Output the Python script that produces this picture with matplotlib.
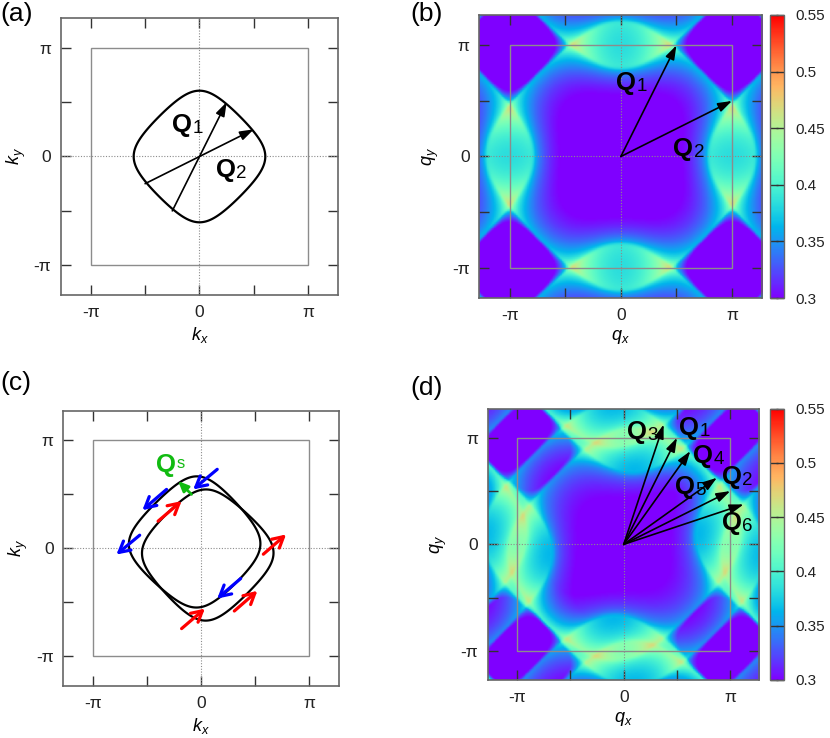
import numpy as np
import matplotlib
matplotlib.use("Agg")
import matplotlib.pyplot as plt
from matplotlib.patches import Rectangle

PI = np.pi

# tight-binding model, energies in units of t
HOP_T = 1.0
HOP_TP = -0.125
CHEM_MU = -1.514
SPLIT_LAMBDA = 0.29     # persistent-spin-helix splitting, lambda (sin kx - sin ky)
TEMP = 0.02
NK = 256
N_FREQ = 220

# linear map from the bare bubble onto the colour scale
CHI_SCALE, CHI_SHIFT = 1.55, 0.045
# panel (d): the two displaced copies are stacked above the purple floor
D_FLOOR, D_WEIGHT = 0.3, 0.75

# nesting vectors (units of pi)
Q1 = (0.5, 1.0)
Q2 = (1.0, 0.5)
QS = (-0.125, 0.125)
Q3 = (Q1[0] + QS[0], Q1[1] + QS[1])
Q4 = (Q1[0] - QS[0], Q1[1] - QS[1])
Q5 = (Q2[0] + QS[0], Q2[1] + QS[1])
Q6 = (Q2[0] - QS[0], Q2[1] - QS[1])

# spin arrows in panel (c): (tail, head) in units of pi
SPIN_DOWN = [((0.148, 0.733), (-0.074, 0.547)),
             ((-0.32, 0.547), (-0.543, 0.355)),
             ((-0.568, 0.123), (-0.783, -0.056)),
             ((0.365, -0.278), (0.148, -0.464))]
SPIN_UP = [((-0.398, 0.253), (-0.181, 0.439)),
           ((0.574, -0.053), (0.784, 0.13)),
           ((0.306, -0.579), (0.519, -0.393)),
           ((-0.181, -0.742), (0.034, -0.557))]
QS_ARROW = ((-0.089, 0.501), (-0.213, 0.624))

CBAR_TICKS = [0.3, 0.35, 0.4, 0.45, 0.5, 0.55]
LIM = 4.0

plt.rcParams["font.family"] = ["Liberation Sans", "DejaVu Sans"]
plt.rcParams["mathtext.fontset"] = "custom"
plt.rcParams["mathtext.rm"] = "Liberation Sans"
plt.rcParams["mathtext.it"] = "Liberation Sans:italic"
plt.rcParams["mathtext.bf"] = "Liberation Sans:bold"


def band(kx, ky, s=0):
    e = -2 * HOP_T * (np.cos(kx) + np.cos(ky)) - 4 * HOP_TP * np.cos(kx) * np.cos(ky) - CHEM_MU
    return e + s * SPLIT_LAMBDA * (np.sin(kx) - np.sin(ky))


# -----------------------
# bare bubbles on the k grid (Matsubara sum + FFT convolution)
# -----------------------
k = 2 * PI * np.arange(NK) / NK
KX, KY = np.meshgrid(k, k)
e0, ep, em = band(KX, KY), band(KX, KY, 1), band(KX, KY, -1)

acc00 = np.zeros(e0.shape, complex)
accpp = np.zeros(e0.shape, complex)
accmm = np.zeros(e0.shape, complex)
for n in range(N_FREQ):
    w = (2 * n + 1) * PI * TEMP
    f0 = np.fft.fft2(1.0 / (1j * w - e0))
    fp = np.fft.fft2(1.0 / (1j * w - ep))
    fm = np.fft.fft2(1.0 / (1j * w - em))
    acc00 += f0 * f0
    accpp += fp * fp
    accmm += fm * fm

tail = 1.0 / (2 * PI ** 2 * TEMP * N_FREQ)


def to_map(acc):
    chi = -2 * TEMP * np.fft.ifft2(acc).real / NK ** 2 + tail
    return CHI_SCALE * chi + CHI_SHIFT


qd = np.linspace(-LIM, LIM, 481)
idx = np.round(qd / (2 * PI) * NK).astype(int) % NK
grid = np.ix_(idx, idx)

map_b = to_map(acc00)[grid]
# spin-flip bubbles: copies of the bare one displaced by +-Q^s
map_p = to_map(accpp)[grid]
map_m = to_map(accmm)[grid]
map_d = D_FLOOR + D_WEIGHT * (np.clip(map_p - D_FLOOR, 0, None) + np.clip(map_m - D_FLOOR, 0, None))

kk = np.linspace(-LIM, LIM, 600)
GX, GY = np.meshgrid(kk, kk)


def style_axes(ax, xl, yl, ypad):
    ax.set_xlim(-LIM, LIM)
    ax.set_ylim(-LIM, LIM)
    ticks = [-PI, -PI / 2, 0, PI / 2, PI]
    labels = ["-π", "", "0", "", "π"]
    ax.set_xticks(ticks)
    ax.set_yticks(ticks)
    ax.set_xticklabels(labels)
    ax.set_yticklabels(labels)
    ax.tick_params(direction="in", length=7, width=1, top=True, right=True,
                   labelsize=12.5, pad=7, color="#333333", labelcolor="#222222")
    for sp in ax.spines.values():
        sp.set_color("#666666")
        sp.set_linewidth(1.2)
        sp.set_zorder(6)
    ax.set_xlabel(xl, fontsize=13, labelpad=4)
    ax.set_ylabel(yl, fontsize=13, labelpad=ypad)
    ax.add_patch(Rectangle((-PI, -PI), 2 * PI, 2 * PI, fill=False, ec="#8c8c8c", lw=1, zorder=3))
    ax.axhline(0, color="#8c8c8c", ls=(0, (1, 1.5)), lw=0.8, zorder=3)
    ax.axvline(0, color="#8c8c8c", ls=(0, (1, 1.5)), lw=0.8, zorder=3)


def q_label(ax, x, y, sub, color="black", sup=False):
    t = ax.text(x * PI, y * PI, "Q", fontsize=18.5, fontweight="bold", color=color,
                ha="left", va="baseline", zorder=8)
    if sup:
        ax.annotate(sub, xy=(1, 1), xycoords=t, xytext=(0.5, -2), textcoords="offset points",
                    fontsize=12, color=color, ha="left", va="top", zorder=8)
    else:
        ax.annotate(sub, xy=(1, 0), xycoords=t, xytext=(0.5, 0), textcoords="offset points",
                    fontsize=13.5, color=color, ha="left", va="bottom", zorder=8)


def arrow(ax, tail, head, color="black", lw=1.2, style="-|>,head_length=0.6,head_width=0.2", ms=14):
    ax.annotate("", xy=(head[0] * PI, head[1] * PI), xytext=(tail[0] * PI, tail[1] * PI),
                arrowprops=dict(arrowstyle=style, color=color, lw=lw, mutation_scale=ms,
                                shrinkA=0, shrinkB=0), zorder=7)


def heatmap(ax, data):
    return ax.imshow(data, extent=[-LIM, LIM, -LIM, LIM], origin="lower", cmap="rainbow",
                     vmin=0.3, vmax=0.55, interpolation="bilinear", zorder=1)


def colorbar(fig, im, rect):
    cax = fig.add_axes(rect)
    cb = fig.colorbar(im, cax=cax, ticks=CBAR_TICKS)
    cb.ax.set_yticklabels([f"{v:g}" for v in CBAR_TICKS])
    cb.ax.tick_params(direction="in", length=6, width=1, left=True, right=True,
                      labelsize=11, pad=8, color="#333333", labelcolor="#222222")
    cb.outline.set_edgecolor("#666666")
    cb.outline.set_linewidth(1.0)


fig = plt.figure(figsize=(8.3, 7.38), dpi=100)

# -----------------------
# (a) Fermi surface
# -----------------------
ax_a = fig.add_axes([0.0735, 0.6003, 0.3337, 0.3753])
style_axes(ax_a, "$k_x$", "$k_y$", 4)
ax_a.contour(GX, GY, band(GX, GY), levels=[0], colors="black", linewidths=1.6, zorder=4)
for q in (Q1, Q2):
    arrow(ax_a, (-q[0] / 2, -q[1] / 2), (q[0] / 2, q[1] / 2))
q_label(ax_a, -0.25, 0.225, "1")
q_label(ax_a, 0.15, -0.185, "2")

# -----------------------
# (b) susceptibility, single band
# -----------------------
ax_b = fig.add_axes([0.5771, 0.5962, 0.3418, 0.3835])
style_axes(ax_b, "$q_x$", "$q_y$", 8)
im_b = heatmap(ax_b, map_b)
for q in (Q1, Q2):
    arrow(ax_b, (0, 0), q)
q_label(ax_b, -0.04, 0.60, "1")
q_label(ax_b, 0.47, 0.0, "2")
colorbar(fig, im_b, [0.9277, 0.5962, 0.0172, 0.3835])

# -----------------------
# (c) spin-split Fermi surfaces
# -----------------------
ax_c = fig.add_axes([0.0763, 0.0705, 0.3322, 0.3726])
style_axes(ax_c, "$k_x$", "$k_y$", 4)
for s in (1, -1):
    ax_c.contour(GX, GY, band(GX, GY, s), levels=[0], colors="black", linewidths=1.6, zorder=4)
for tail_, head_ in SPIN_DOWN:
    arrow(ax_c, tail_, head_, color="#0000ff", lw=2.3, style="->,head_length=0.55,head_width=0.3", ms=14)
for tail_, head_ in SPIN_UP:
    arrow(ax_c, tail_, head_, color="#ff0000", lw=2.3, style="->,head_length=0.55,head_width=0.3", ms=14)
arrow(ax_c, QS_ARROW[0], QS_ARROW[1], color="#11bb11", lw=2.0, style="-|>,head_length=0.5,head_width=0.22", ms=12)
q_label(ax_c, -0.415, 0.71, "s", color="#11bb11", sup=True)

# -----------------------
# (d) susceptibility, spin-split bands
# -----------------------
ax_d = fig.add_axes([0.584, 0.0786, 0.3349, 0.3676])
style_axes(ax_d, "$q_x$", "$q_y$", 8)
im_d = heatmap(ax_d, map_d)
for q in (Q1, Q2, Q3, Q4, Q5, Q6):
    arrow(ax_d, (0, 0), q)
q_label(ax_d, 0.03, 0.99, "3")
q_label(ax_d, 0.52, 1.03, "1")
q_label(ax_d, 0.65, 0.76, "4")
q_label(ax_d, 0.48, 0.47, "5")
q_label(ax_d, 0.92, 0.563, "2")
q_label(ax_d, 0.92, 0.133, "6")
colorbar(fig, im_d, [0.9277, 0.0786, 0.0169, 0.3676])

for x, y, lab in [(0.0, 0.997, "(a)"), (0.495, 0.997, "(b)"), (0.0, 0.497, "(c)"), (0.495, 0.49, "(d)")]:
    fig.text(x, y, lab, fontsize=19, ha="left", va="top")

fig.savefig("out.png", dpi=100)
